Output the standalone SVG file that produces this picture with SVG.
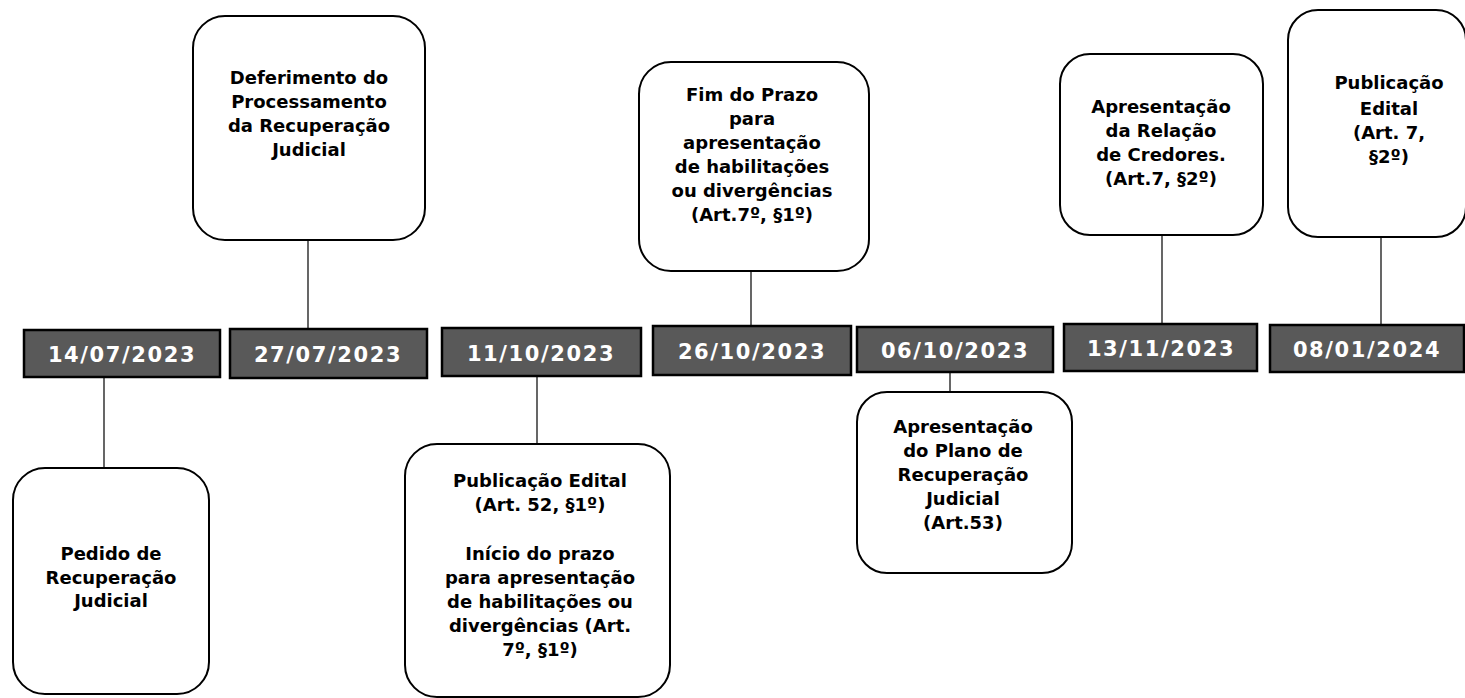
<svg xmlns="http://www.w3.org/2000/svg" width="1465" height="698" viewBox="0 0 1465 698">
<style>
.date rect{fill:#595959;stroke:#000;stroke-width:2.5}
.date text{fill:#fff;font-family:"DejaVu Sans",Verdana,sans-serif;font-weight:bold;font-size:21px;letter-spacing:1.6px;text-anchor:middle}
.node rect{fill:#fff;stroke:#000;stroke-width:2}
.node text{fill:#000;font-family:"DejaVu Sans",Verdana,sans-serif;font-weight:bold;font-size:18px;text-anchor:middle}
#connectors line{stroke:#000;stroke-width:1.2}
</style>
<rect width="1465" height="698" fill="#fff"/>
<g id="connectors">
<line x1="104" y1="377" x2="104" y2="468"/>
<line x1="308" y1="240" x2="308" y2="329"/>
<line x1="537" y1="376" x2="537" y2="444"/>
<line x1="751" y1="271" x2="751" y2="326"/>
<line x1="950" y1="372" x2="950" y2="392"/>
<line x1="1162" y1="235" x2="1162" y2="324"/>
<line x1="1381" y1="237" x2="1381" y2="325"/>
</g>
<g id="d1" class="date"><rect x="24" y="330" width="196" height="47"/><text x="122" y="362">14/07/2023</text></g>
<g id="d2" class="date"><rect x="230" y="329" width="197" height="49"/><text x="328" y="362">27/07/2023</text></g>
<g id="d3" class="date"><rect x="442" y="328" width="199" height="48"/><text x="541" y="361">11/10/2023</text></g>
<g id="d4" class="date"><rect x="653" y="326" width="198" height="49"/><text x="752" y="359">26/10/2023</text></g>
<g id="d5" class="date"><rect x="857" y="327" width="196" height="45"/><text x="955" y="358">06/10/2023</text></g>
<g id="d6" class="date"><rect x="1064" y="324" width="193" height="47"/><text x="1161" y="356">13/11/2023</text></g>
<g id="d7" class="date"><rect x="1270" y="325" width="194" height="47"/><text x="1367" y="357">08/01/2024</text></g>
<g id="n1" class="node"><rect x="13" y="468" width="196" height="226" rx="32"/>
<text x="111" y="560">Pedido de</text><text x="111" y="584">Recuperação</text><text x="111" y="607">Judicial</text></g>
<g id="n2" class="node"><rect x="193" y="16" width="232" height="224" rx="32"/>
<text x="309" y="84">Deferimento do</text><text x="309" y="108">Processamento</text><text x="309" y="132">da Recuperação</text><text x="309" y="156">Judicial</text></g>
<g id="n3" class="node"><rect x="405" y="444" width="265" height="253" rx="32"/>
<text x="540" y="487">Publicação Edital</text><text x="540" y="511"> (Art. 52, §1º)</text><text x="540" y="560">Início do prazo</text><text x="540" y="584">para apresentação</text><text x="540" y="608">de habilitações ou</text><text x="540" y="632">divergências (Art.</text><text x="540" y="656">7º, §1º)</text></g>
<g id="n4" class="node"><rect x="639" y="62" width="230" height="209" rx="32"/>
<text x="752" y="101">Fim do Prazo</text><text x="752" y="125">para</text><text x="752" y="149">apresentação</text><text x="752" y="173">de habilitações</text><text x="752" y="197">ou divergências</text><text x="752" y="221">(Art.7º, §1º)</text></g>
<g id="n5" class="node"><rect x="857" y="392" width="215" height="181" rx="30"/>
<text x="963" y="433">Apresentação</text><text x="963" y="457">do Plano de</text><text x="963" y="481">Recuperação</text><text x="963" y="505">Judicial</text><text x="963" y="529">(Art.53)</text></g>
<g id="n6" class="node"><rect x="1060" y="54" width="203" height="181" rx="30"/>
<text x="1161" y="113">Apresentação</text><text x="1161" y="137">da Relação</text><text x="1161" y="161">de Credores.</text><text x="1161" y="185">(Art.7, §2º)</text></g>
<g id="n7" class="node"><rect x="1288" y="10" width="178" height="227" rx="30"/>
<text x="1389" y="89">Publicação</text><text x="1389" y="115">Edital</text><text x="1389" y="139">(Art. 7,</text><text x="1389" y="163">§2º)</text></g>
</svg>
